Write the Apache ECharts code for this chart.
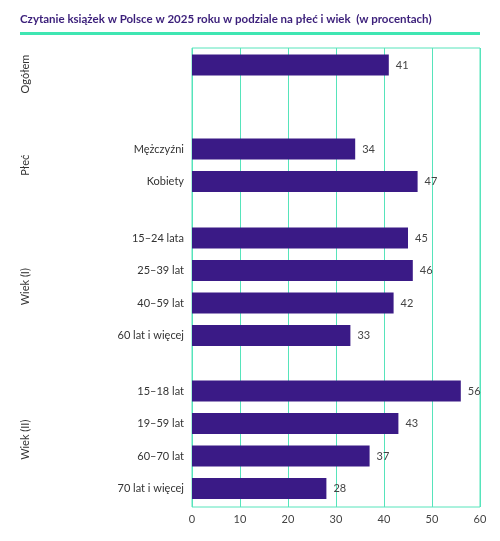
<!DOCTYPE html>
<html>
<head>
<meta charset="utf-8">
<script src="https://cdn.jsdelivr.net/npm/echarts@6/dist/echarts.min.js"></script>
<style>
  html, body { margin: 0; padding: 0; background: #fff; }
  #chart { width: 500px; height: 541px; }
</style>
</head>
<body>
<div id="chart"></div>
<script>
// data
const title = 'Czytanie książek w Polsce w 2025 roku w podziale na płeć i wiek  (w procentach)';
const sections = ['Ogółem', 'Płeć', 'Wiek (I)', 'Wiek (II)'];
const groupCategories = [
  [''],
  ['Mężczyźni', 'Kobiety'],
  ['15–24 lata', '25–39 lat', '40–59 lat', '60 lat i więcej'],
  ['15–18 lat', '19–59 lat', '60–70 lat', '70 lat i więcej']
];
const groupValues = [
  [41],
  [34, 47],
  [45, 46, 42, 33],
  [56, 43, 37, 28]
];
const xTicks = [0, 10, 20, 30, 40, 50, 60];

// layout
const LEFT = 192, RIGHT = 20;
const SLOT = 32.5;
const groupTops = [48.75, 132.75, 221.75, 374.75];
const GREEN = '#56e4bb';
const PURPLE = '#3a1a86';
const FONT = 'Lato';

const chart = echarts.init(document.getElementById('chart'));

const grids = [{ left: LEFT, right: RIGHT, top: 48, bottom: 34, show: true, borderColor: GREEN, borderWidth: 1 }];
const xAxes = [{
  gridIndex: 0, type: 'value', min: xTicks[0], max: xTicks[xTicks.length - 1], interval: 10,
  axisLine: { show: false }, axisTick: { show: false },
  splitLine: { show: true, lineStyle: { color: GREEN, width: 1 } },
  axisLabel: { color: '#444', fontSize: 11, fontFamily: FONT, margin: 7 }
}];
const yAxes = [{ gridIndex: 0, type: 'category', data: [], show: false }];
const series = [];

sections.forEach((name, i) => {
  const gi = i + 1;
  grids.push({ left: LEFT, right: RIGHT, top: groupTops[i], height: SLOT * groupCategories[i].length });
  xAxes.push({ gridIndex: gi, type: 'value', min: 0, max: 60, show: false });
  yAxes.push({
    gridIndex: gi, type: 'category', inverse: true, data: groupCategories[i],
    axisLine: { show: false }, axisTick: { show: false }, splitLine: { show: false },
    axisLabel: { color: '#333', fontSize: 11, fontFamily: FONT, margin: 8 },
    name: name, nameLocation: 'middle', nameRotate: 90, nameGap: 161,
    nameTextStyle: { color: '#333', fontSize: 11, fontFamily: FONT, padding: i === 0 ? [0, 18, 0, 0] : 0 }
  });
  series.push({
    type: 'bar', xAxisIndex: gi, yAxisIndex: gi, data: groupValues[i], barWidth: 21,
    itemStyle: { color: PURPLE },
    label: { show: true, position: 'right', distance: 7, color: '#444', fontSize: 11, fontFamily: FONT },
    silent: true
  });
});

chart.setOption({
  animation: false,
  title: {
    text: title, left: 15, top: 8,
    textStyle: { color: '#3b1f7a', fontSize: 11.5, fontWeight: 'bold', fontFamily: FONT }
  },
  graphic: [{
    type: 'rect', shape: { x: 20, y: 32, width: 460, height: 3 },
    style: { fill: '#3fe6b2' }, silent: true
  }],
  grid: grids,
  xAxis: xAxes,
  yAxis: yAxes,
  series: series
});
</script>
</body>
</html>
